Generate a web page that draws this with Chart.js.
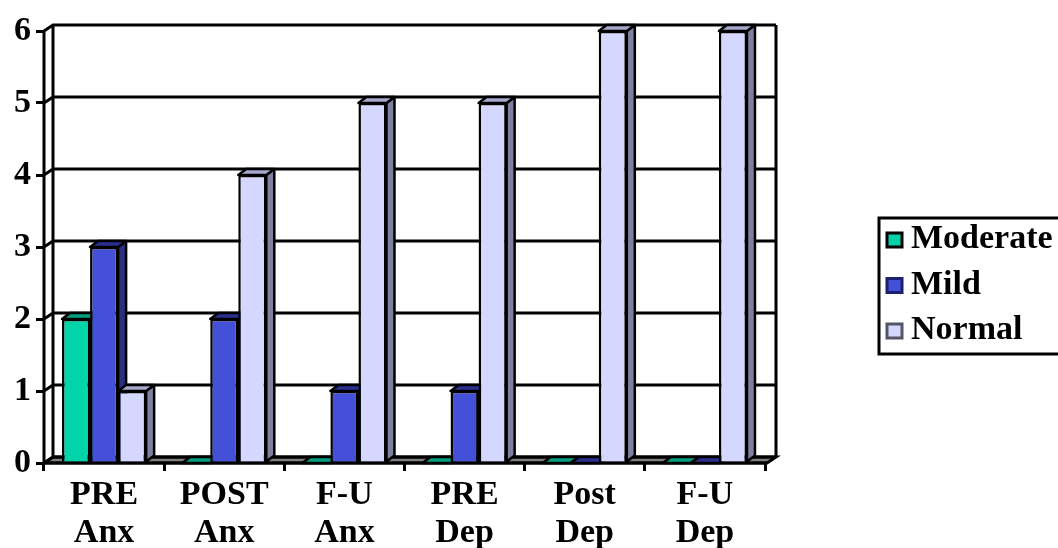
<!DOCTYPE html>
<html>
<head>
<meta charset="utf-8">
<style>
  html, body { margin: 0; padding: 0; background: #fff; overflow: hidden; }
  #wrap { width: 1058px; height: 548px; }
</style>
<script src="https://cdn.jsdelivr.net/npm/chart.js@4"></script>
</head>
<body>
<div id="wrap"><canvas id="chart" width="1058" height="548"></canvas></div>
<script>
const categories = [['PRE', 'Anx'], ['POST', 'Anx'], ['F-U', 'Anx'], ['PRE', 'Dep'], ['Post', 'Dep'], ['F-U', 'Dep']];
const moderate = [2, 0, 0, 0, 0, 0];
const mild = [3, 2, 1, 1, 0, 0];
const normal = [1, 4, 5, 5, 6, 6];

const FONT = { family: '"Liberation Serif", "Times New Roman", serif', weight: 'bold', size: 34, lineHeight: 1.1 };
const DX = 9, DY = 6; // depth of the fake 3D
const BAR_DX = 8;

function poly(ctx, pts, fill) {
    ctx.beginPath();
    pts.forEach((p, i) => i ? ctx.lineTo(p[0], p[1]) : ctx.moveTo(p[0], p[1]));
    ctx.closePath();
    ctx.fillStyle = fill;
    ctx.fill();
    ctx.stroke();
}

// back wall, side wall and floor, behind the bars
const walls = {
    id: 'walls',
    beforeDatasetsDraw(chart) {
        const { ctx, chartArea: a, scales: { y } } = chart;
        const backRight = a.right + DX + 2;
        ctx.save();
        ctx.strokeStyle = '#000';
        ctx.lineWidth = 3;
        poly(ctx, [[a.left, a.bottom], [a.left + DX, a.bottom - DY], [backRight, a.bottom - DY], [a.right + 2, a.bottom]], '#808080');
        y.ticks.forEach(t => {
            const py = y.getPixelForValue(t.value);
            ctx.beginPath();
            ctx.moveTo(a.left, py);
            ctx.lineTo(a.left + DX, py - DY);
            ctx.lineTo(backRight, py - DY);
            ctx.stroke();
        });
        ctx.beginPath();
        ctx.moveTo(a.left + DX, a.top - DY);
        ctx.lineTo(a.left + DX, a.bottom - DY);
        ctx.moveTo(backRight, a.top - DY);
        ctx.lineTo(backRight, a.bottom - DY);
        ctx.moveTo(a.left, a.top);
        ctx.lineTo(a.left, a.bottom);
        ctx.moveTo(a.left, a.bottom);
        ctx.lineTo(a.right + 2, a.bottom);
        ctx.stroke();
        ctx.restore();
    }
};

// top and side faces of every bar, the library draws the front face over them
const faces = {
    id: 'faces',
    beforeDatasetsDraw(chart) {
        const { ctx } = chart;
        ctx.save();
        ctx.strokeStyle = '#000';
        ctx.lineWidth = 2.5;
        ctx.lineJoin = 'round';
        const count = chart.data.labels.length;
        for (let i = 0; i < count; i++) {
            chart.data.datasets.forEach((ds, d) => {
                const bar = chart.getDatasetMeta(d).data[i];
                const l = bar.x - bar.width / 2, r = bar.x + bar.width / 2;
                const t = bar.y, b = bar.base;
                if (b > t) poly(ctx, [[r, t], [r + BAR_DX, t - DY], [r + BAR_DX, b - DY], [r, b]], ds.sideColor);
                poly(ctx, [[l, t], [l + BAR_DX, t - DY], [r + BAR_DX, t - DY], [r, t]], ds.topColor);
            });
        }
        ctx.restore();
    }
};

const boxLegend = {
    id: 'boxLegend',
    afterDraw(chart) {
        const { ctx } = chart;
        ctx.save();
        ctx.strokeStyle = '#000';
        ctx.lineWidth = 3;
        ctx.strokeRect(879, 218, 190, 136);
        ctx.font = 'bold 34px ' + FONT.family;
        ctx.textBaseline = 'alphabetic';
        chart.data.datasets.forEach((ds, i) => {
            const top = 233 + i * 45.5;
            ctx.fillStyle = ds.backgroundColor;
            ctx.strokeStyle = ds.swatchBorder;
            ctx.lineWidth = 3;
            ctx.fillRect(887, top, 15, 14);
            ctx.strokeRect(887, top, 15, 14);
            ctx.fillStyle = '#000';
            ctx.fillText(ds.label, 911, top + 15);
        });
        ctx.restore();
    }
};

const barStyle = { borderColor: '#000', borderWidth: 2.5, categoryPercentage: 0.7, barPercentage: 1 };

new Chart(document.getElementById('chart'), {
    type: 'bar',
    data: {
        labels: categories,
        datasets: [
            { label: 'Moderate', data: moderate, backgroundColor: '#00D4A8', topColor: '#00A080', sideColor: '#007A64', swatchBorder: '#000', ...barStyle },
            { label: 'Mild', data: mild, backgroundColor: '#4450D8', topColor: '#2B3090', sideColor: '#2A2F80', swatchBorder: '#1C2070', ...barStyle },
            { label: 'Normal', data: normal, backgroundColor: '#D4D8FF', topColor: '#A6A9CC', sideColor: '#7F80A0', swatchBorder: '#555566', ...barStyle }
        ]
    },
    options: {
        responsive: false,
        animation: false,
        layout: { padding: { top: 31, right: 293, bottom: 0, left: 0 } },
        plugins: { legend: { display: false }, tooltip: { enabled: false } },
        scales: {
            x: {
                afterFit: s => { s.height = 85; },
                border: { display: false },
                grid: { drawOnChartArea: false, color: '#000', lineWidth: 3, tickLength: 8, offset: true },
                ticks: { color: '#000', font: FONT, padding: 6, autoSkip: false, maxRotation: 0 }
            },
            y: {
                min: 0,
                max: 6,
                afterFit: s => { s.width = 44; },
                border: { display: false },
                grid: { drawOnChartArea: false, color: '#000', lineWidth: 3, tickLength: 8 },
                ticks: { color: '#000', font: FONT, padding: 5, stepSize: 1 }
            }
        }
    },
    plugins: [walls, faces, boxLegend]
});
</script>
</body>
</html>
